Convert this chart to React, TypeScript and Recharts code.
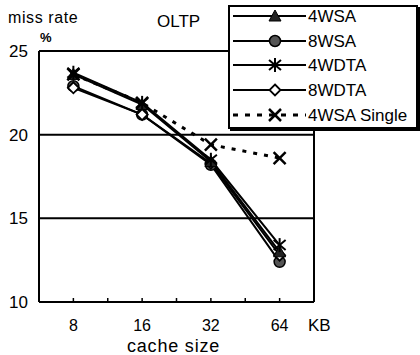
import { LineChart, Line, XAxis, YAxis, CartesianGrid, ReferenceLine } from 'recharts';

const cacheSizes = [8, 16, 32, 64];
const wsa4 = [23.6, 21.8, 18.4, 13.0];
const wsa8 = [22.9, 21.2, 18.2, 12.4];
const wdta4 = [23.7, 21.9, 18.5, 13.4];
const wdta8 = [22.8, 21.2, 18.3, 12.8];
const wsa4Single = [23.6, 21.9, 19.4, 18.6];
const yTicks = [10, 15, 20, 25];

type Kind = 'triangle' | 'circle' | 'asterisk' | 'diamond' | 'x';

const series: { key: string; name: string; values: number[]; marker: Kind; dashed?: boolean }[] = [
  { key: 'wsa4', name: '4WSA', values: wsa4, marker: 'triangle' },
  { key: 'wsa8', name: '8WSA', values: wsa8, marker: 'circle' },
  { key: 'wdta4', name: '4WDTA', values: wdta4, marker: 'asterisk' },
  { key: 'wdta8', name: '8WDTA', values: wdta8, marker: 'diamond' },
  { key: 'wsa4Single', name: '4WSA Single', values: wsa4Single, marker: 'x', dashed: true },
];

// x is log2 of cache size, so 8/16/32/64 are evenly spaced
const data = cacheSizes.map((size, i) => {
  const row: Record<string, number> = { x: Math.log2(size) };
  series.forEach((s) => { row[s.key] = s.values[i]; });
  return row;
});

const xTicks = [3, 3.5, 4, 4.5, 5, 5.5, 6];
const FONT = '"Liberation Sans", Arial, sans-serif';

function Marker({ kind, cx, cy }: { kind: Kind; cx: number; cy: number }) {
  if (kind === 'triangle') {
    return <path d={`M${cx},${cy - 6}L${cx + 6},${cy + 5}L${cx - 6},${cy + 5}Z`} fill="#222" stroke="#000" strokeWidth={1} />;
  }
  if (kind === 'circle') {
    return <circle cx={cx} cy={cy} r={5.5} fill="#555" stroke="#000" strokeWidth={1.5} />;
  }
  if (kind === 'asterisk') {
    return (
      <g stroke="#000" strokeWidth={2}>
        <line x1={cx} y1={cy - 7} x2={cx} y2={cy + 7} />
        <line x1={cx - 6} y1={cy - 5} x2={cx + 6} y2={cy + 5} />
        <line x1={cx - 6} y1={cy + 5} x2={cx + 6} y2={cy - 5} />
      </g>
    );
  }
  if (kind === 'diamond') {
    return <path d={`M${cx},${cy - 5.5}L${cx + 5.5},${cy}L${cx},${cy + 5.5}L${cx - 5.5},${cy}Z`} fill="#fff" stroke="#000" strokeWidth={1.8} />;
  }
  return (
    <g stroke="#000" strokeWidth={2.5}>
      <line x1={cx - 6} y1={cy - 6} x2={cx + 6} y2={cy + 6} />
      <line x1={cx - 6} y1={cy + 6} x2={cx + 6} y2={cy - 6} />
    </g>
  );
}

function XTick({ x, y, payload }: any) {
  const v = payload.value as number;
  const major = Number.isInteger(v);
  return (
    <g>
      <line x1={x} y1={y - 4} x2={x} y2={y} stroke="#000" strokeWidth={1.5} />
      {major && (
        <text x={x} y={y + 29} textAnchor="middle" fontSize={16} fontFamily={FONT} fill="#000">
          {Math.pow(2, v)}
        </text>
      )}
    </g>
  );
}

function YTick({ x, y, payload }: any) {
  return (
    <text x={x} y={y} dy="0.36em" textAnchor="end" fontSize={17} fontFamily={FONT} fill="#000">
      {payload.value}
    </text>
  );
}

function LegendBox() {
  const rowY = [9, 34, 58, 83, 108];
  return (
    <div style={{ position: 'absolute', left: 228, top: 5, width: 186, height: 120, border: '2px solid #000', boxShadow: '2px 2px 0 #000', background: '#fff' }}>
      <svg width={186} height={120} style={{ display: 'block' }}>
        {series.map((s, i) => (
          <g key={s.key}>
            <line x1={3} y1={rowY[i]} x2={76} y2={rowY[i]} stroke="#000" strokeWidth={s.dashed ? 3 : 2} strokeDasharray={s.dashed ? '5 7' : undefined} />
            <Marker kind={s.marker} cx={45} cy={rowY[i]} />
            <text x={78} y={rowY[i] + 6} fontSize={17} fontFamily={FONT} fill="#000">{s.name}</text>
          </g>
        ))}
      </svg>
    </div>
  );
}

export default function App() {
  const drawOrder = ['wsa8', 'wdta8', 'wsa4', 'wdta4', 'wsa4Single'];
  return (
    <div style={{ position: 'relative', width: 420, height: 355, background: '#fff' }}>
      <style>{`body{margin:0}`}</style>
      <LineChart width={420} height={355} data={data} margin={{ top: 51, right: 106, left: 0, bottom: 0 }}>
        <CartesianGrid vertical={false} stroke="#000" strokeWidth={2} />
        <XAxis
          dataKey="x"
          type="number"
          domain={[2.5, 6.5]}
          ticks={xTicks}
          interval={0}
          height={53}
          tickSize={0}
          tickMargin={0}
          tickLine={false}
          axisLine={{ stroke: '#000', strokeWidth: 2 }}
          tick={<XTick />}
        />
        <YAxis
          domain={[10, 25]}
          ticks={yTicks}
          width={39}
          tickSize={0}
          tickMargin={11}
          tickLine={false}
          axisLine={{ stroke: '#000', strokeWidth: 2 }}
          tick={<YTick />}
        />
        <ReferenceLine x={6.5} stroke="#000" strokeWidth={2} />
        {drawOrder.map((k) => {
          const s = series.find((d) => d.key === k)!;
          return (
            <Line
              key={s.key}
              dataKey={s.key}
              name={s.name}
              type="linear"
              stroke="#000"
              strokeWidth={s.dashed ? 3 : 2}
              strokeDasharray={s.dashed ? '4 7' : undefined}
              isAnimationActive={false}
              dot={(p: any) => <Marker key={`${s.key}-${p.index}`} kind={s.marker} cx={p.cx} cy={p.cy} />}
            />
          );
        })}
      </LineChart>
      <svg width={420} height={355} style={{ position: 'absolute', left: 0, top: 0, pointerEvents: 'none' }} fontFamily={FONT} fill="#000">
        <text x={8} y={23} fontSize={16} letterSpacing={0.6}>miss rate</text>
        <text x={157} y={27} fontSize={17}>OLTP</text>
        <text x={40} y={42} fontSize={13} fontWeight="bold">%</text>
        <text x={308} y={331} fontSize={17}>KB</text>
        <text x={127} y={352} fontSize={18} letterSpacing={0.8}>cache size</text>
      </svg>
      <LegendBox />
    </div>
  );
}
